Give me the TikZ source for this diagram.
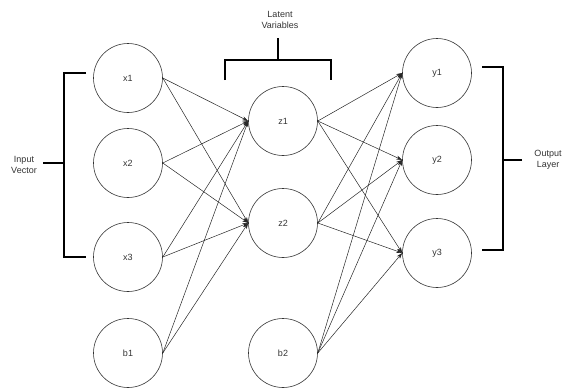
\documentclass[tikz,border=0pt]{standalone}
\usepackage{fontspec}
\setmainfont{Liberation Sans}
\usetikzlibrary{arrows.meta}

\tikzset{
  unit/.style={draw=black!80, line width=0.6pt, circle, minimum size=69pt, inner sep=0pt,
               font=\fontsize{9}{10}\selectfont, text=black!80},
  wire/.style={line width=0.5pt, draw=black!85, -{Stealth[length=6pt,width=4pt]}},
  brace/.style={line width=1.5pt, draw=black},
  lbl/.style={align=center, font=\fontsize{9}{10.5}\selectfont, text=black!80}
}

\begin{document}
\begin{tikzpicture}[x=1pt, y=-1pt]
      \useasboundingbox (0,0) rectangle (567,388);

      % input layer
      \node[unit] (x1) at (128,78) {x1};
      \node[unit] (x2) at (128,163) {x2};
      \node[unit] (x3) at (128,257) {x3};
      \node[unit] (b1) at (128,353) {b1};

      % latent layer
      \node[unit] (z1) at (283,121) {z1};
      \node[unit] (z2) at (283,223) {z2};
      \node[unit] (b2) at (283,353) {b2};

      % output layer
      \node[unit] (y1) at (437,73) {y1};
      \node[unit] (y2) at (437,160) {y2};
      \node[unit] (y3) at (437,253) {y3};

      \foreach \s in {x1,x2,x3,b1}
        \foreach \t in {z1,z2}
          \draw[wire] (\s.east) -- (\t.west);
      \foreach \s in {z1,z2,b2}
        \foreach \t in {y1,y2,y3}
          \draw[wire] (\s.east) -- (\t.west);

      % brackets
      \coordinate (ia) at (86,73);
      \coordinate (ib) at (86,257);
      \coordinate (ic) at (43,163);
      \draw[brace] (ia) -| (64,257) -- (ib);
      \draw[brace] (ic) -- (64,163);
      \node[lbl] (inlbl) at (24,165) {Input\\Vector};

      \coordinate (la) at (225,80);
      \coordinate (lb) at (331,80);
      \coordinate (lc) at (278,38);
      \draw[brace] (la) |- (331,60) -- (lb);
      \draw[brace] (lc) -- (278,60);
      \node[lbl] (latlbl) at (280,20) {Latent\\Variables};

      \coordinate (oa) at (482,67);
      \coordinate (ob) at (482,250);
      \coordinate (oc) at (522,160);
      \draw[brace] (oa) -| (503,250) -- (ob);
      \draw[brace] (oc) -- (503,160);
      \node[lbl] (outlbl) at (548,160) {Output\\Layer};
\end{tikzpicture}
\end{document}
